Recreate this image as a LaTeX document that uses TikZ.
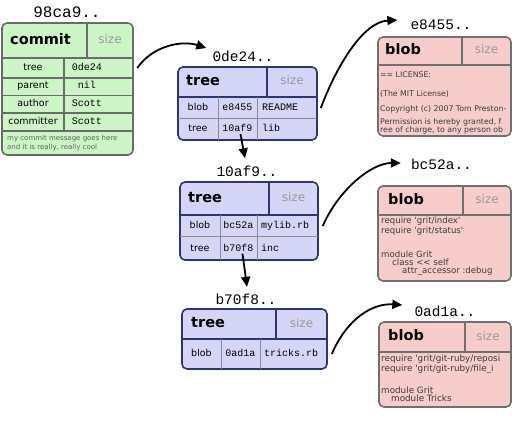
\documentclass[tikz,border=0pt]{standalone}
\usepackage{fontspec}
\setmainfont{DejaVu Sans}
\newfontfamily\hashfam{Liberation Mono}
\newfontfamily\codefam{DejaVu Sans}[Ligatures=TeXOff]
\usetikzlibrary{arrows.meta}

\definecolor{commitfill}{HTML}{CCF5C6}
\definecolor{commitedge}{HTML}{6B6B6B}
\definecolor{treefill}{HTML}{D5D5F7}
\definecolor{treeedge}{HTML}{2E3575}
\definecolor{blobfill}{HTML}{F6CDCB}
\definecolor{blobedge}{HTML}{707070}
\definecolor{rowgray}{HTML}{8C8C8C}
\definecolor{sizegray}{HTML}{9A9A9A}
\definecolor{codegray}{HTML}{3A3A3A}

\tikzset{
  objbox/.style={rounded corners=5pt, line width=1.6pt, inner sep=0pt},
  commitbox/.style={objbox, draw=commitedge, fill=commitfill},
  treebox/.style={objbox, draw=treeedge, fill=treefill},
  blobbox/.style={objbox, draw=blobedge, fill=blobfill},
  hashlabel/.style={font=\hashfam\fontsize{14.5}{16}\selectfont, inner sep=0pt, text height=9pt, text depth=0pt},
  kindlabel/.style={font=\bfseries\fontsize{14.5}{16}\selectfont, anchor=west, inner sep=0pt, text height=11pt, text depth=3.5pt},
  sizelabel/.style={font=\fontsize{12}{14}\selectfont, text=sizegray, inner sep=0pt, text height=9pt, text depth=3pt},
  fieldlabel/.style={font=\fontsize{9.5}{11}\selectfont, inner sep=0pt, text height=7pt, text depth=2pt},
  fieldvalue/.style={font=\hashfam\fontsize{10}{12}\selectfont, inner sep=0pt, text height=7pt, text depth=2pt},
  msgtext/.style={font=\codefam\fontsize{7}{9}\selectfont, text=codegray!80, inner sep=0pt, align=left, anchor=north west},
  codetext/.style={font=\codefam\fontsize{8.6}{8}\selectfont, text=codegray, inner sep=0pt, align=left, anchor=north west},
  cutline/.style={line width=1.6pt},
  rowline/.style={line width=1pt, draw=rowgray},
  ptr/.style={line width=1.8pt, -{Triangle[length=10pt,width=9pt]}},
}

\begin{document}
\begin{tikzpicture}[x=1pt,y=-1pt]
\useasboundingbox (0,0) rectangle (517,422);

% commit object
\node[hashlabel, font=\hashfam\fontsize{16}{18}\selectfont] (h98ca9) at (67,13) {98ca9..};
\node[commitbox, minimum width=131pt, minimum height=132pt] (commit) at (67.5,89) {};
\draw[cutline, commitedge] (2,58) -- (133,58) (87,23) -- (87,58);
\draw[line width=1.2pt, commitedge] (2,78) -- (133,78) (2,95.5) -- (133,95.5)
  (2,113) -- (133,113) (2,131) -- (133,131) (64,58) -- (64,131);
\node[kindlabel] (ckind) at (10,41) {commit};
\node[sizelabel] (csize) at (110,41) {size};
\node[fieldlabel] (ctreekey) at (33,68) {tree};
\node[fieldvalue] (ctree) at (87,68) {0de24};
\node[fieldlabel] (cparentkey) at (33,86.5) {parent};
\node[fieldvalue] (cparent) at (87,86.5) {nil};
\node[fieldlabel] (cauthorkey) at (33,104) {author};
\node[fieldvalue] (cauthor) at (87,104) {Scott};
\node[fieldlabel] (ccommitterkey) at (33,122) {committer};
\node[fieldvalue] (ccommitter) at (87,122) {Scott};
\node[msgtext] (cmsg) at (7,134.5) {my commit message goes here\\and it is really, really cool};

% tree 0de24
\node[hashlabel] (h0de24) at (243,57) {0de24..};
\node[treebox, minimum width=139pt, minimum height=73pt] (tree1) at (247.5,103.5) {};
\draw[cutline, treeedge] (178,97) -- (317,97) (267,67) -- (267,97);
\draw[rowline] (178,119) -- (317,119) (218,97) -- (218,140) (257,97) -- (257,140);
\node[kindlabel] (t1kind) at (186,82) {tree};
\node[sizelabel] (t1size) at (292,82) {size};
\node[fieldlabel] (t1type) at (198,108) {blob};
\node[fieldvalue] (t1blob) at (237.5,108) {e8455};
\node[fieldvalue, anchor=west] (t1name) at (262,108) {README};
\node[fieldlabel] (t1type2) at (198,129.5) {tree};
\node[fieldvalue] (t1sub) at (237.5,129.5) {10af9};
\node[fieldvalue, anchor=west] (t1name2) at (262,129.5) {lib};

% tree 10af9
\node[hashlabel] (h10af9) at (247,172) {10af9..};
\node[treebox, minimum width=138pt, minimum height=78pt] (tree2) at (249,221) {};
\draw[cutline, treeedge] (180,215) -- (318,215) (269,182) -- (269,215);
\draw[rowline] (180,237) -- (318,237) (220,215) -- (220,260) (257,215) -- (257,260);
\node[kindlabel] (t2kind) at (188,198.5) {tree};
\node[sizelabel] (t2size) at (293.5,198.5) {size};
\node[fieldlabel] (t2type) at (200,226) {blob};
\node[fieldvalue] (t2blob) at (238.5,226) {bc52a};
\node[fieldvalue, anchor=west] (t2name) at (261,226) {mylib.rb};
\node[fieldlabel] (t2type2) at (200,249) {tree};
\node[fieldvalue] (t2sub) at (238.5,249) {b70f8};
\node[fieldvalue, anchor=west] (t2name2) at (261,249) {inc};

% tree b70f8
\node[hashlabel] (hb70f8) at (246,300) {b70f8..};
\node[treebox, minimum width=145pt, minimum height=60pt] (tree3) at (254.5,339) {};
\draw[cutline, treeedge] (182,339) -- (327,339) (276,309) -- (276,339);
\draw[rowline] (221,339) -- (221,369) (260,339) -- (260,369);
\node[kindlabel] (t3kind) at (191,324) {tree};
\node[sizelabel] (t3size) at (301.5,324) {size};
\node[fieldlabel] (t3type) at (201.5,354) {blob};
\node[fieldvalue] (t3blob) at (240.5,354) {0ad1a};
\node[fieldvalue, anchor=west] (t3name) at (264,354) {tricks.rb};

% blob e8455
\node[hashlabel] (he8455) at (441,25) {e8455..};
\node[blobbox, minimum width=133pt, minimum height=99pt] (blob1) at (444.5,86.5) {};
\draw[cutline, blobedge] (378,65) -- (511,65) (462,37) -- (462,65);
\node[kindlabel] (b1kind) at (385,51) {blob};
\node[sizelabel] (b1size) at (486.5,51) {size};
\node[codetext, font=\codefam\fontsize{7.8}{8}\selectfont] (b1text) at (380,72) {== LICENSE:\\[11pt]
  (The MIT License)\\[7pt]
  Copyright (c) 2007 Tom Preston-\\[5pt]
  Permission is hereby granted, f\\
  ree of charge, to any person ob};

% blob bc52a
\node[hashlabel] (hbc52a) at (441.5,165) {bc52a..};
\node[blobbox, minimum width=133pt, minimum height=95pt] (blob2) at (444.5,233.5) {};
\draw[cutline, blobedge] (378,215) -- (511,215) (463,186) -- (463,215);
\node[kindlabel] (b2kind) at (388,200.5) {blob};
\node[sizelabel] (b2size) at (487,200.5) {size};
\node[codetext] (b2text) at (381,217) {require 'grit/index'\\
  require 'grit/status'\\[15pt]
  module Grit\\
  \hspace*{11pt}class << self\\
  \hspace*{21pt}attr\_accessor :debug};

% blob 0ad1a
\node[hashlabel] (h0ad1a) at (445,312) {0ad1a..};
\node[blobbox, minimum width=132pt, minimum height=85pt] (blob3) at (445,364.5) {};
\draw[cutline, blobedge] (379,352) -- (511,352) (465,322) -- (465,352);
\node[kindlabel] (b3kind) at (388,337) {blob};
\node[sizelabel] (b3size) at (488,337) {size};
\node[codetext, font=\codefam\fontsize{8.8}{8}\selectfont] (b3text) at (381,355) {require 'grit/git-ruby/reposi\\
  require 'grit/git-ruby/file\_i\\[12pt]
  module Grit\\
  \hspace*{10pt}module Tricks};

% pointers
\draw[ptr] ([xshift=3.5pt]commit.east |- ctree) .. controls +(15,-22) and +(-25,-8) .. ([xshift=-6pt,yshift=9pt]h0de24.west);
\draw[ptr] ([xshift=3pt]t1sub.south) -- ([xshift=-2pt,yshift=9pt]h10af9.north);
\draw[ptr] ([xshift=4pt]t2sub.south) -- ([xshift=1pt,yshift=8.5pt]hb70f8.north);
\draw[ptr] ([xshift=3pt]tree1.east |- t1blob) .. controls +(15,-40) and +(-35,2) .. ([xshift=-13pt,yshift=5pt]he8455.west);
\draw[ptr] ([xshift=4pt]tree2.east |- t2blob) .. controls +(15,-35) and +(-30,0) .. ([xshift=-10pt,yshift=2pt]hbc52a.west);
\draw[ptr] ([xshift=4pt]tree3.east |- t3blob) .. controls +(15,-35) and +(-30,-2) .. ([xshift=-12pt,yshift=7pt]h0ad1a.west);
\end{tikzpicture}
\end{document}
